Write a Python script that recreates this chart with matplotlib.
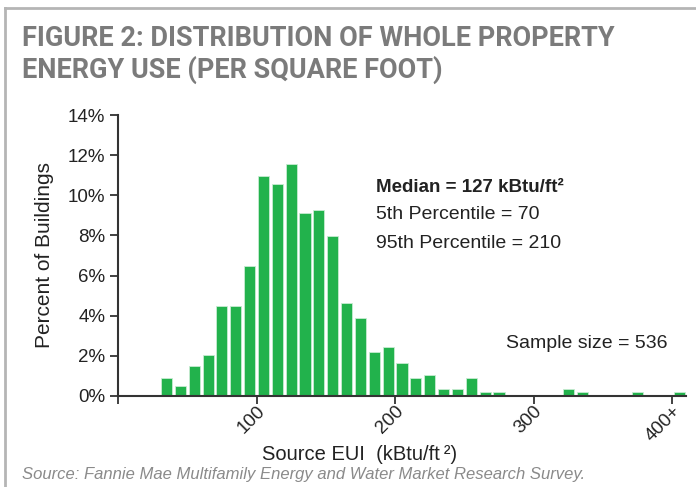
import numpy as np
import matplotlib
matplotlib.use("Agg")
import matplotlib.pyplot as plt
from matplotlib.lines import Line2D
from matplotlib import font_manager

# --- dati (percentuale di edifici per classe di 10 kBtu/ft2) ---
bin_centers = [35, 45, 55, 65, 75, 85, 95, 105, 115, 125, 135, 145, 155, 165,
               175, 185, 195, 205, 215, 225, 235, 245, 255, 265, 275,
               325, 335, 375, 405]
percent = [0.91, 0.50, 1.47, 2.03, 4.47, 4.47, 6.47, 10.98, 10.57, 11.55,
           9.13, 9.28, 7.99, 4.62, 3.89, 2.20, 2.43, 1.64, 0.91, 1.06,
           0.35, 0.35, 0.91, 0.18, 0.18, 0.35, 0.18, 0.18, 0.18]
x_ticks = [0, 100, 200, 300, 400]
x_tick_labels = ["", "100", "200", "300", "400+"]
y_ticks = [0, 2, 4, 6, 8, 10, 12, 14]
y_tick_labels = ["%d%%" % v for v in y_ticks]

plt.rcParams['font.family'] = ['Liberation Sans', 'DejaVu Sans']

# font stretto per il titolo, se c'e'
installed = {f.name for f in font_manager.fontManager.ttflist}
if 'Liberation Sans Narrow' in installed:
    title_font, title_size = 'Liberation Sans Narrow', 20
else:
    title_font, title_size = 'Roboto', 19.5

fig = plt.figure(figsize=(6.96, 4.87), dpi=100)
ax = fig.add_axes([118/696, 1 - 396/487, (686-118)/696, (396-115)/487])

ax.bar(bin_centers, percent, width=8, color='#22b24c', edgecolor='#c8ecd2',
       linewidth=0.6)

ax.set_xlim(0, 410)
ax.set_ylim(0, 14)
ax.set_yticks(y_ticks)
ax.set_yticklabels(y_tick_labels, fontsize=13.5, color='#222222')
ax.set_xticks(x_ticks)
ax.set_xticklabels(x_tick_labels, fontsize=13.5, color='#222222',
                   rotation=45, ha='right', va='top', rotation_mode='anchor')

for s in ['top', 'right']:
    ax.spines[s].set_visible(False)
for s in ['left', 'bottom']:
    ax.spines[s].set_color('#333333')
    ax.spines[s].set_linewidth(1.5)
ax.tick_params(axis='both', direction='out', length=6, width=1.3,
               color='#333333', pad=3)
ax.tick_params(axis='x', pad=-1)

ax.set_ylabel("Percent of Buildings", fontsize=15, color='#222222', labelpad=10)
ax.set_xlabel("Source EUI  (kBtu/ft\u2009\u00b2)", fontsize=14.5,
              color='#222222')
ax.xaxis.set_label_coords((360-118)/(686-118), -0.175)

# annotazioni
ax.text(376/696, 1 - 188/487, "Median = 127 kBtu/ft\u00b2", transform=fig.transFigure,
        fontsize=13.5, fontweight='bold', color='#222222', va='center')
ax.text(376/696, 1 - 215/487, "5th Percentile = 70", transform=fig.transFigure,
        fontsize=14, color='#222222', va='center')
ax.text(376/696, 1 - 243/487, "95th Percentile = 210", transform=fig.transFigure,
        fontsize=14, color='#222222', va='center')
ax.text(506/696, 1 - 343/487, "Sample size = 536", transform=fig.transFigure,
        fontsize=14, color='#222222', va='center')

# titolo
fig.text(22/696, 1 - 39/487, "FIGURE 2: DISTRIBUTION OF WHOLE PROPERTY",
         family=title_font, fontweight='bold',
         fontsize=title_size, color='#7b7b7b', va='center')
fig.text(22/696, 1 - 70/487, "ENERGY USE (PER SQUARE FOOT)",
         family=title_font, fontweight='bold',
         fontsize=title_size, color='#7b7b7b', va='center')

# fonte
fig.text(22/696, 1 - 474/487,
         "Source: Fannie Mae Multifamily Energy and Water Market Research Survey.",
         fontsize=12.0, style='italic', color='#8a8a8a', va='center')

# cornice grigia
fig.add_artist(Line2D([5/696, 5/696], [0, 1 - 8/487], transform=fig.transFigure,
                      color='#b5b5b5', linewidth=2))
fig.add_artist(Line2D([5/696, 1], [1 - 8/487, 1 - 8/487], transform=fig.transFigure,
                      color='#b5b5b5', linewidth=2))

fig.savefig("out.png", dpi=100)
